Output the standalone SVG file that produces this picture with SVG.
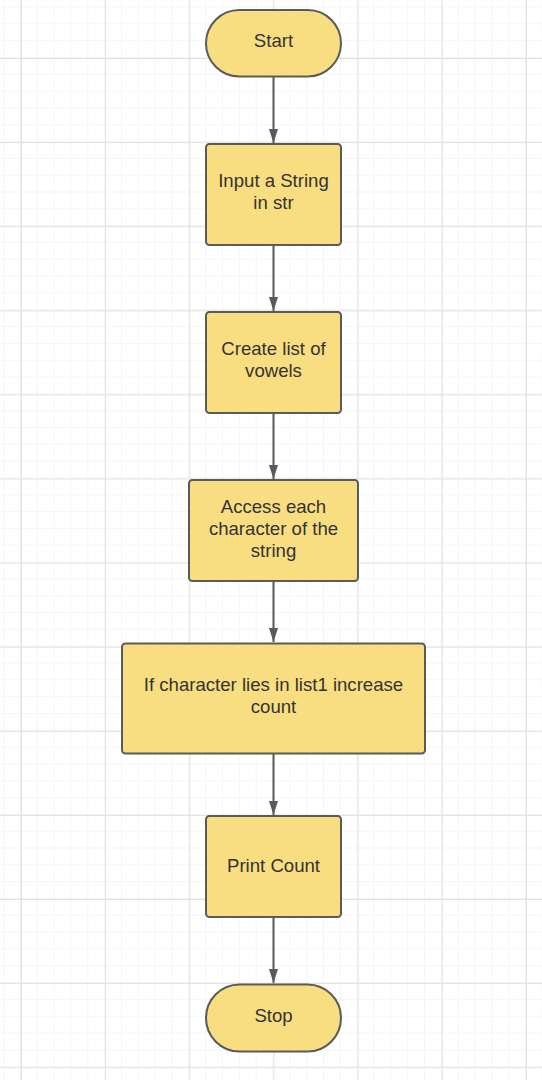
<svg xmlns="http://www.w3.org/2000/svg" width="542" height="1080" viewBox="0 0 542 1080">
<defs>
<pattern id="minor" x="4.2" y="7.5" width="16.83" height="16.82" patternUnits="userSpaceOnUse">
<path d="M16.83 0V16.82M0 16.82H16.83" fill="none" stroke="#ebebeb" stroke-width="1"/>
</pattern>
<pattern id="major" x="21" y="58" width="84.15" height="84.1" patternUnits="userSpaceOnUse">
<path d="M0.5 0V84.1M0 0.5H84.15" fill="none" stroke="#e0e0e0" stroke-width="1"/>
</pattern>
<marker id="ah" markerWidth="14" markerHeight="10" refX="14" refY="5" orient="auto" markerUnits="userSpaceOnUse" viewBox="0 0 14 10">
<path d="M0 0.5 L14 5 L0 9.5 Z" fill="#5a5a5a"/>
</marker>
</defs>
<style>
.node{fill:#f9de81;stroke:#5a5a5a;stroke-width:2}
.lbl{font-family:"Liberation Sans",Arial,sans-serif;font-size:18.6px;fill:#333333;text-anchor:middle}
.edge{stroke:#5a5a5a;stroke-width:2;fill:none;marker-end:url(#ah)}
</style>
<rect width="542" height="1080" fill="#ffffff"/>
<rect width="542" height="1080" fill="url(#minor)"/>
<rect width="542" height="1080" fill="url(#major)"/>
<g id="connectors">
<path class="edge" d="M273.5 77V143"/>
<path class="edge" d="M273.5 245V311"/>
<path class="edge" d="M273.5 413V479"/>
<path class="edge" d="M273.5 581V642"/>
<path class="edge" d="M273.5 754V815"/>
<path class="edge" d="M273.5 917V983"/>
</g>
<g id="start">
<rect class="node" x="206" y="10" width="135" height="66.5" rx="33.25"/>
<text class="lbl" x="273.5" y="46.5">Start</text>
</g>
<g id="input">
<rect class="node" x="206" y="144" width="135" height="101" rx="3.5"/>
<text class="lbl" x="273.5" y="186.5">Input a String</text>
<text class="lbl" x="273.5" y="208.5">in str</text>
</g>
<g id="create">
<rect class="node" x="206" y="312" width="135" height="101" rx="3.5"/>
<text class="lbl" x="273.5" y="354.5">Create list of</text>
<text class="lbl" x="273.5" y="376.5">vowels</text>
</g>
<g id="access">
<rect class="node" x="189" y="480" width="169" height="101" rx="3.5"/>
<text class="lbl" x="273.5" y="512.5">Access each</text>
<text class="lbl" x="273.5" y="534.5">character of the</text>
<text class="lbl" x="273.5" y="556.5">string</text>
</g>
<g id="check">
<rect class="node" x="122" y="643.5" width="303" height="110" rx="3.5"/>
<text class="lbl" x="273.5" y="690.5">If character lies in list1 increase</text>
<text class="lbl" x="273.5" y="712.5">count</text>
</g>
<g id="print">
<rect class="node" x="206" y="816" width="135" height="101" rx="3.5"/>
<text class="lbl" x="273.5" y="871.5">Print Count</text>
</g>
<g id="stop">
<rect class="node" x="206" y="984.5" width="135" height="67" rx="33.5"/>
<text class="lbl" x="273.5" y="1021.5">Stop</text>
</g>
</svg>
